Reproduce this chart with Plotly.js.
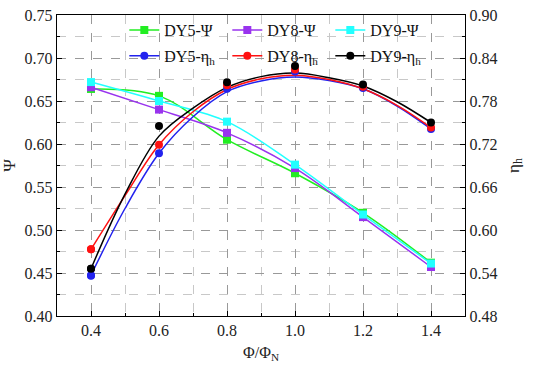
<!DOCTYPE html>
<html>
<head>
<meta charset="utf-8">
<script src="https://cdn.plot.ly/plotly-3.0.1.min.js"></script>
<style>html,body{margin:0;padding:0;background:#fff;}#chart{width:550px;height:370px;}</style>
</head>
<body>
<div id="chart"></div>
<script>
// Flow ratio points
var flowRatio = [0.4, 0.6, 0.8, 1.0, 1.2, 1.4];
// Head coefficient Psi (left axis)
var psiDY5 = [0.664, 0.656, 0.605, 0.566, 0.520, 0.462];
var psiDY8 = [0.666, 0.640, 0.613, 0.572, 0.515, 0.457];
var psiDY9 = [0.672, 0.650, 0.626, 0.576, 0.518, 0.461];
// Hydraulic efficiency eta_h measured points (right axis)
var etaDY5 = [0.536, 0.707, 0.797, 0.821, 0.798, 0.741];
var etaDY8 = [0.573, 0.719, 0.802, 0.824, 0.800, 0.743];
var etaDY9 = [0.546, 0.745, 0.806, 0.829, 0.803, 0.750];
// Fitted efficiency curves
var fitX = [0.4, 0.5, 0.6, 0.7, 0.8, 0.9, 1.0, 1.1, 1.2, 1.3, 1.4];
var fitDY5 = [0.537, 0.630, 0.707, 0.758, 0.793, 0.808, 0.8135, 0.8085, 0.797, 0.773, 0.741];
var fitDY8 = [0.573, 0.648, 0.719, 0.765, 0.796, 0.811, 0.816, 0.810, 0.797, 0.774, 0.743];
var fitDY9 = [0.546, 0.650, 0.731, 0.770, 0.799, 0.814, 0.819, 0.8125, 0.801, 0.779, 0.750];
// Labels
var psiNames = ['DY5-Ψ', 'DY8-Ψ', 'DY9-Ψ'];
var etaNames = ['DY5-η<sub>h</sub>', 'DY8-η<sub>h</sub>', 'DY9-η<sub>h</sub>'];
var psiColors = ['#22ee22', '#9933ee', '#22ffff'];
var etaColors = ['#2222ee', '#ff1111', '#000000'];

var psiData = [psiDY5, psiDY8, psiDY9];
var etaData = [etaDY5, etaDY8, etaDY9];
var fitData = [fitDY5, fitDY8, fitDY9];

var traces = [];
for (var i = 0; i < 3; i++) {
  traces.push({
    x: flowRatio, y: psiData[i], name: psiNames[i], legend: 'legend',
    mode: 'lines+markers', type: 'scatter',
    line: {color: psiColors[i], width: 1.5, shape: 'spline'},
    marker: {symbol: 'square', size: 8, color: psiColors[i]}
  });
}
for (var j = 0; j < 3; j++) {
  var mc = fitX.map(function (v, k) { return k === 0 ? etaColors[j] : 'rgba(0,0,0,0)'; });
  traces.push({
    x: fitX, y: fitData[j], name: etaNames[j], legend: 'legend2', yaxis: 'y2',
    mode: 'lines+markers', type: 'scatter',
    line: {color: etaColors[j], width: 1.5, shape: 'spline'},
    marker: {symbol: 'circle', size: 8, color: mc}
  });
}
for (var k = 0; k < 3; k++) {
  traces.push({
    x: flowRatio, y: etaData[k], name: etaNames[k], showlegend: false, yaxis: 'y2',
    mode: 'markers', type: 'scatter',
    marker: {symbol: 'circle', size: 8, color: etaColors[k]}
  });
}

var fontF = '"Liberation Serif", "Times New Roman", Times, serif';
var legendCommon = {
  orientation: 'h', xanchor: 'left', yanchor: 'middle', x: 0.165,
  bgcolor: 'rgba(0,0,0,0)', borderwidth: 0,
  font: {family: fontF, size: 16, color: '#111'},
  entrywidth: 58, entrywidthmode: 'pixels', itemwidth: 30
};
var legend1 = Object.assign({}, legendCommon, {y: 0.95});
var legend2 = Object.assign({}, legendCommon, {y: 0.864});

var layout = {
  width: 550, height: 370,
  margin: {l: 57, r: 85, t: 15, b: 54},
  paper_bgcolor: '#fff', plot_bgcolor: '#fff',
  font: {family: fontF, size: 15, color: '#222'},
  showlegend: true,
  legend: legend1,
  legend2: legend2,
  xaxis: {
    range: [0.3, 1.5], tick0: 0.4, dtick: 0.2, tickformat: '.1f',
    ticks: 'inside', ticklen: 5, tickcolor: '#000', tickwidth: 1,
    showline: true, linecolor: '#000', linewidth: 1.2, mirror: true,
    showgrid: true, gridcolor: '#999', griddash: 'dash', gridwidth: 1,
    zeroline: false,
    minor: {dtick: 0.1, ticks: 'inside', ticklen: 3, tickcolor: '#000', showgrid: true, gridcolor: '#c8c8c8', griddash: 'dash'},
    title: {text: 'Φ/Φ<sub>N</sub>', font: {family: fontF, size: 16}, standoff: 8},
    tickfont: {family: fontF, size: 16}
  },
  yaxis: {
    range: [0.40, 0.75], dtick: 0.05, tickformat: '.2f',
    ticks: 'inside', ticklen: 5, tickcolor: '#000',
    showline: true, linecolor: '#000', linewidth: 1.2,
    showgrid: true, gridcolor: '#999', griddash: 'dash',
    zeroline: false,
    minor: {dtick: 0.025, ticks: 'inside', ticklen: 3, tickcolor: '#000', showgrid: true, gridcolor: '#c8c8c8', griddash: 'dash'},
    title: {text: 'Ψ', font: {family: fontF, size: 17}, standoff: 8},
    tickfont: {family: fontF, size: 16}
  },
  yaxis2: {
    overlaying: 'y', side: 'right',
    range: [0.48, 0.90], dtick: 0.06, tickformat: '.2f',
    ticks: 'inside', ticklen: 5, tickcolor: '#000',
    showline: true, linecolor: '#000', linewidth: 1.2,
    showgrid: false, zeroline: false,
    minor: {dtick: 0.03, ticks: 'inside', ticklen: 3, tickcolor: '#000'},
    title: {text: 'η<sub>h</sub>', font: {family: fontF, size: 17}, standoff: 10},
    tickfont: {family: fontF, size: 16}
  }
};

Plotly.newPlot('chart', traces, layout, {displayModeBar: false, staticPlot: true});
</script>
</body>
</html>
